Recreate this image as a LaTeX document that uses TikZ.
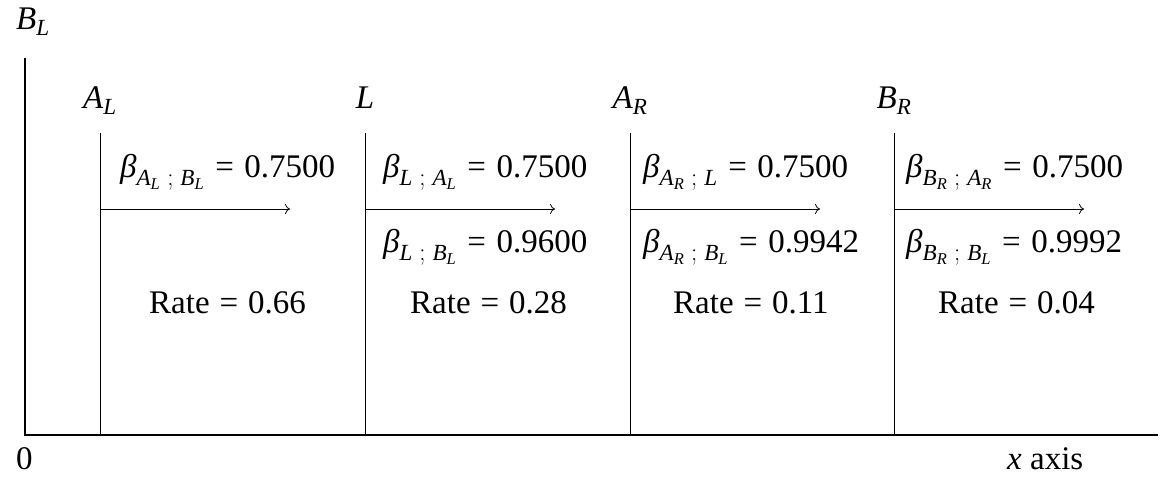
\documentclass[tikz,border=0pt]{standalone}
\usepackage{amsmath}
\usepackage{fontspec}
\setmainfont{Liberation Serif}
\usetikzlibrary{arrows.meta}
\newcommand\ti[1]{\text{\itshape #1}}
\newcommand\bet[2]{$\ti{β}_{#1\;;\;#2}$\hspace{0.32em}=\hspace{0.32em}}
\begin{document}
\begin{tikzpicture}[x=1pt,y=-1pt,
  every node/.style={inner sep=0pt,font=\fontsize{33}{40}\selectfont},
  lbl/.style={anchor=base},
  txt/.style={anchor=base west},
  ax/.style={line width=1.2pt},
  seg/.style={line width=1pt},
  arr/.style={line width=0.8pt,-{To[length=5pt,width=10pt]}}]
\useasboundingbox (0,0) rectangle (1162,477);
% axes
\coordinate (O) at (25,435);
\coordinate (ytop) at (25,58);
\coordinate (xend) at (1158,435);
\draw[ax] (ytop) -- (O) -- (xend);
\node[lbl] (BL) at (33,29) {$\ti{B}_{\ti{L}}$};
\node[txt] (zero) at (16,469) {0};
\node[txt] (xlab) at (1007,469) {$\ti{x}$ axis};
% vertical lines
\foreach \n/\x/\name in {1/100/$\ti{A}_{\ti{L}}$, 2/365/$\ti{L}$, 3/630/$\ti{A}_{\ti{R}}$, 4/894/$\ti{B}_{\ti{R}}$}{
  \coordinate (t\n) at (\x,133);
  \coordinate (b\n) at (\x,435);
  \draw[seg] (t\n) -- (b\n);
  \coordinate (s\n) at (\x,209);
  \coordinate (e\n) at (\x+190,209);
  \draw[arr] (s\n) -- (e\n);
  \node[lbl] (p\n) at (\x,108) {\name};
}
% beta labels
\node[txt] (b1a) at (120,177) {\bet{\ti{A}_{\ti{L}}}{\ti{B}_{\ti{L}}}0.7500};
\node[txt] (b2a) at (383,177) {\bet{\ti{L}}{\ti{A}_{\ti{L}}}0.7500};
\node[txt] (b2b) at (383,252) {\bet{\ti{L}}{\ti{B}_{\ti{L}}}0.9600};
\node[txt] (b3a) at (643,177) {\bet{\ti{A}_{\ti{R}}}{\ti{L}}0.7500};
\node[txt] (b3b) at (643,252) {\bet{\ti{A}_{\ti{R}}}{\ti{B}_{\ti{L}}}0.9942};
\node[txt] (b4a) at (906,177) {\bet{\ti{B}_{\ti{R}}}{\ti{A}_{\ti{R}}}0.7500};
\node[txt] (b4b) at (906,252) {\bet{\ti{B}_{\ti{R}}}{\ti{B}_{\ti{L}}}0.9992};
% rates
\node[txt] (r1) at (149,313) {Rate\hspace{0.3em}=\hspace{0.3em}0.66};
\node[txt] (r2) at (410,313) {Rate\hspace{0.3em}=\hspace{0.3em}0.28};
\node[txt] (r3) at (673,313) {Rate\hspace{0.3em}=\hspace{0.3em}0.11};
\node[txt] (r4) at (938,313) {Rate\hspace{0.3em}=\hspace{0.3em}0.04};
\end{tikzpicture}
\end{document}
